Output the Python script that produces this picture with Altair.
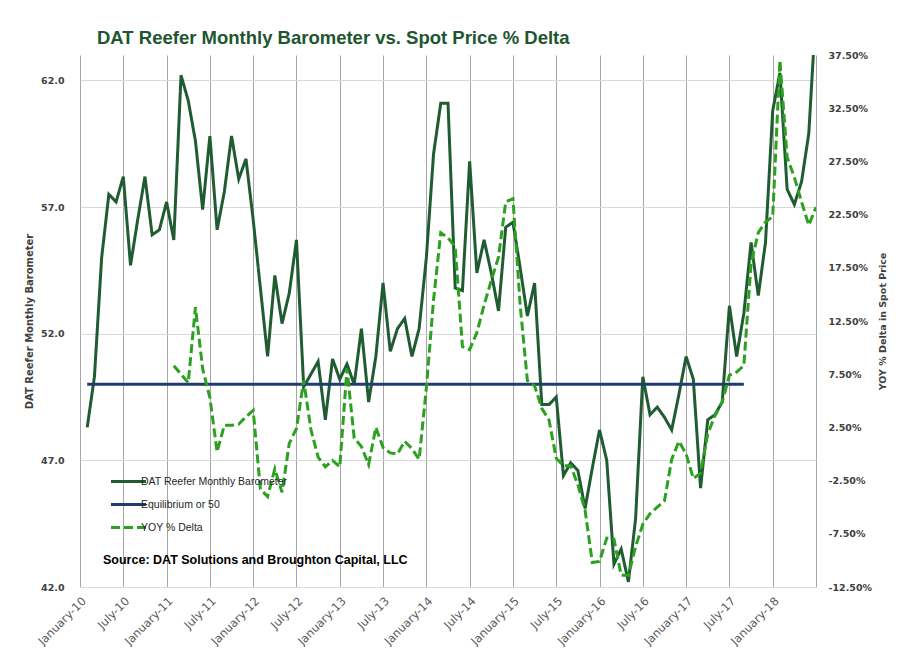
import json

import altair as alt
import pandas as pd

title_text = "DAT Reefer Monthly  Barometer vs. Spot Price % Delta"
source_text = "Source: DAT Solutions and Broughton Capital, LLC"

series_names = ["DAT Reefer Monthly Barometer", "Equilibrium or 50", "YOY % Delta"]
series_colors = ["#1f5c31", "#1f3d70", "#2ca01f"]

# x axis: one unit per month, 0 = start of January 2010, a label every 6 months
tick_labels = [
    "January-10", "July-10", "January-11", "July-11", "January-12", "July-12",
    "January-13", "July-13", "January-14", "July-14", "January-15", "July-15",
    "January-16", "July-16", "January-17", "July-17", "January-18", "",
]

# monthly barometer readings, Jan 2010 .. Jun 2018 (month-end)
barometer = [
    48.3, 50.3, 55.0, 57.5, 57.2, 58.2, 54.7, 56.5, 58.2, 55.9, 56.1, 57.2,
    55.7, 62.2, 61.2, 59.6, 56.9, 59.8, 56.1, 57.6, 59.8, 58.1, 58.9, 56.5,
    53.8, 51.1, 54.3, 52.4, 53.6, 55.7, 49.9, 50.4, 50.9, 48.6, 51.0, 50.2,
    50.8, 50.0, 52.2, 49.3, 51.1, 54.0, 51.3, 52.2, 52.6, 51.1, 52.2, 55.0,
    59.1, 61.1, 61.1, 53.8, 53.7, 58.8, 54.4, 55.7, 54.4, 52.9, 56.2, 56.4,
    54.6, 52.7, 54.0, 49.2, 49.2, 49.5, 46.4, 46.9, 46.6, 45.1, 46.7, 48.2,
    47.0, 42.9, 43.5, 42.2, 44.7, 50.3, 48.8, 49.1, 48.7, 48.2, 49.6, 51.1,
    50.2, 45.9, 48.6, 48.8, 49.3, 53.1, 51.1, 52.8, 55.6, 53.5, 55.6, 60.8,
    62.3, 57.7, 57.1, 58.0, 59.9, 64.8,
]

# YOY % delta in spot price, Jan 2011 .. Jun 2018
yoy_delta = [
    8.3, 7.5, 6.7, 13.8, 8.0, 5.3, 0.2, 2.7, 2.7, 2.8, 3.5, 4.1,
    -3.3, -4.0, -1.4, -3.6, 1.0, 2.4, 6.9, 2.3, -0.3, -1.2, -0.6, -1.2,
    8.0, 1.5, 0.7, -1.0, 2.5, 0.6, 0.1, 0.0, 1.2, 0.5, -0.5, 6.2,
    14.5, 20.8, 20.3, 19.5, 10.1, 9.8, 11.4, 14.0, 16.3, 18.5, 23.7, 24.0,
    14.0, 6.9, 6.4, 4.3, 3.2, -0.4, -1.1, -1.1, -2.9, -5.3, -10.2, -10.1,
    -7.9, -8.0, -11.4, -11.4, -8.7, -6.6, -5.6, -5.0, -4.4, -0.5, 1.2, 0.0,
    -2.3, -1.8, 1.9, 3.6, 4.9, 7.4, 7.7, 8.3, 17.9, 20.8, 21.8, 22.3,
    37.0, 27.9, 26.0, 23.7, 21.5, 23.2,
]

# equilibrium line, Jan 2010 .. Aug 2017
equilibrium_months = [1, 92]
equilibrium = [50, 50]

left_ticks = [42, 47, 52, 57, 62]
right_ticks = [-12.5, -7.5, -2.5, 2.5, 7.5, 12.5, 17.5, 22.5, 27.5, 32.5, 37.5]

baro_df = pd.DataFrame({
    "month": range(1, len(barometer) + 1),
    "value": barometer,
    "series": series_names[0],
})
eq_df = pd.DataFrame({
    "month": equilibrium_months,
    "value": equilibrium,
    "series": series_names[1],
})
yoy_df = pd.DataFrame({
    "month": range(13, 13 + len(yoy_delta)),
    "value": yoy_delta,
    "series": series_names[2],
})

x_enc = alt.X(
    "month:Q",
    scale=alt.Scale(domain=[0, 102], nice=False, zero=False),
    axis=alt.Axis(
        values=list(range(0, 103, 6)),
        labelExpr=json.dumps(tick_labels) + "[round(datum.value / 6)]",
        labelAngle=315,
        labelOverlap=False,
        labelFont="DejaVu Sans",
        labelFontSize=11.5,
        labelColor="#595959",
        labelPadding=8,
        ticks=False,
        domain=False,
        grid=True,
        gridColor="#a6a6a6",
        gridWidth=1,
        title=None,
    ),
)

color_enc = alt.Color(
    "series:N",
    scale=alt.Scale(domain=series_names, range=series_colors),
    legend=alt.Legend(title=None),
)
dash_enc = alt.StrokeDash(
    "series:N",
    scale=alt.Scale(domain=series_names, range=[[1, 0], [1, 0], [9, 4]]),
    legend=alt.Legend(title=None),
)

left_scale = alt.Scale(domain=[42, 63], nice=False, zero=False)

baro = alt.Chart(baro_df).mark_line(strokeWidth=3, clip=True).encode(
    x=x_enc,
    y=alt.Y(
        "value:Q",
        scale=left_scale,
        axis=alt.Axis(
            values=left_ticks,
            format=".1f",
            labelFont="DejaVu Sans",
            labelFontWeight="bold",
            labelFontSize=9.5,
            labelColor="#404040",
            labelPadding=16,
            ticks=False,
            domain=False,
            gridColor="#d9d9d9",
            gridWidth=1,
            title="DAT Reefer Monthly Barometer",
            titleFont="DejaVu Sans",
            titleFontSize=10,
            titleFontWeight="bold",
            titleColor="#404040",
            titlePadding=6,
        ),
    ),
    color=color_enc,
    strokeDash=dash_enc,
)

eq = alt.Chart(eq_df).mark_line(strokeWidth=3).encode(
    x=x_enc,
    y=alt.Y("value:Q", scale=left_scale, axis=None),
    color=color_enc,
    strokeDash=dash_enc,
)

yoy = alt.Chart(yoy_df).mark_line(strokeWidth=3, clip=True).encode(
    x=x_enc,
    y=alt.Y(
        "value:Q",
        scale=alt.Scale(domain=[-12.5, 37.5], nice=False, zero=False),
        axis=alt.Axis(
            orient="right",
            values=right_ticks,
            labelExpr="(datum.value < 0 ? '-' : '') + format(abs(datum.value), '.2f') + '%'",
            labelFont="DejaVu Sans",
            labelFontWeight="bold",
            labelFontSize=9.5,
            labelColor="#404040",
            labelPadding=12,
            ticks=False,
            domain=False,
            grid=False,
            title="YOY % Delta in Spot Price",
            titleAngle=270,
            titleFont="DejaVu Sans",
            titleFontSize=9.5,
            titleFontWeight="bold",
            titleColor="#404040",
            titlePadding=16,
        ),
    ),
    color=color_enc,
    strokeDash=dash_enc,
)

source = alt.Chart(pd.DataFrame({"label": [source_text]})).mark_text(
    align="left",
    baseline="middle",
    font="Liberation Sans",
    fontSize=12.5,
    fontWeight="bold",
    color="#000000",
).encode(
    x=alt.value(23),
    y=alt.value(505),
    text="label:N",
)

chart = alt.layer(baro, eq, yoy, source).resolve_scale(
    y="independent"
).properties(
    width=736,
    height=532,
    autosize=alt.AutoSizeParams(type="none"),
    padding={"left": 72, "top": 47, "right": 87, "bottom": 60},
    title=alt.TitleParams(
        title_text,
        anchor="start",
        frame="group",
        dx=17,
        offset=3,
        font="Liberation Sans",
        fontSize=18.5,
        fontWeight="bold",
        color="#1d5630",
    ),
).configure_view(
    stroke=None
).configure_legend(
    orient="none",
    legendX=40,
    legendY=418,
    labelFont="Liberation Sans",
    labelFontSize=10.5,
    labelColor="#262626",
    labelOffset=4,
    symbolType="M-2.5,0H2.5",
    symbolSize=196,
    symbolStrokeWidth=3,
    rowPadding=8,
)

chart.save("out.html", embed_options={"renderer": "svg", "actions": False})
